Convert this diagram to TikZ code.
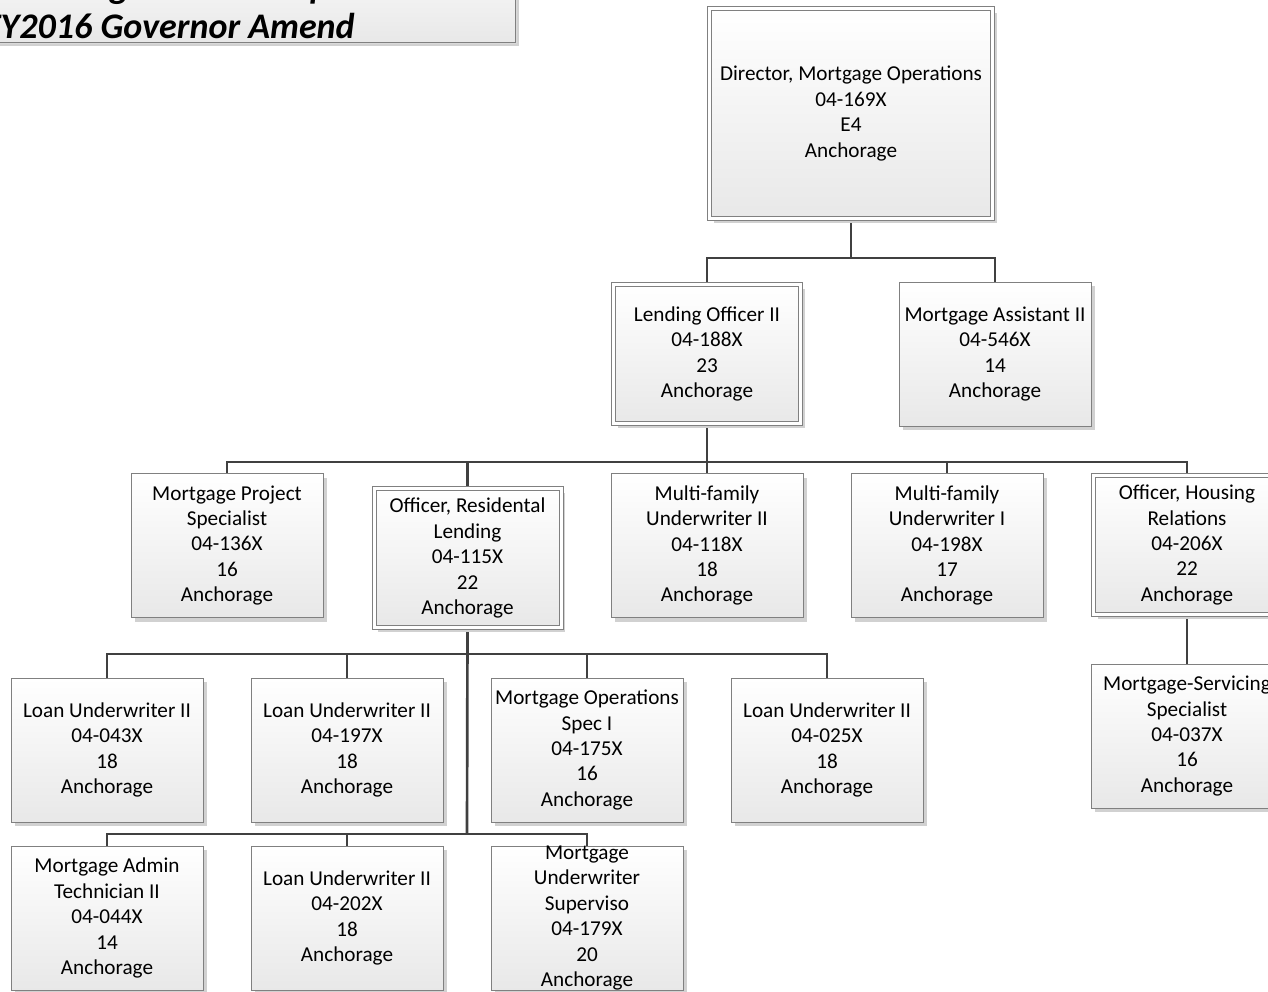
\documentclass[tikz,border=0pt]{standalone}
\usepackage{fontspec}
\setmainfont{Carlito}
\usetikzlibrary{shadows,calc}
\pgfdeclarelayer{background}
\pgfsetlayers{background,main}
\tikzset{
 orgbox/.style={draw=black!50, line width=0.75pt, top color=white, bottom color=black!9,
   minimum width=144pt, minimum height=108pt, inner sep=0pt, outer sep=0pt,
   drop shadow={shadow xshift=3pt, shadow yshift=-3pt, fill=black!18, opacity=1}},
 dblbox/.style={orgbox, double=white, double distance=2.25pt,
   minimum width=140.25pt, minimum height=104.25pt},
 txt/.style={align=center, font=\fontsize{15.9}{19.1}\selectfont, inner sep=0pt, text=black},
 ttl/.style={font=\fontsize{27}{32}\selectfont\bfseries\itshape, inner sep=0pt, text=black},
 conn/.style={draw=black!75, line width=2pt}
}
\begin{document}
\begin{tikzpicture}[x=0.75pt,y=-0.75pt]
\useasboundingbox (0,0) rectangle (1268,992);
\begin{scope}
\clip (0,0) rectangle (1268,992);
% title block
\node[orgbox, anchor=south east, minimum width=420pt, minimum height=80pt,
  drop shadow={shadow xshift=1.5pt, shadow yshift=-1.5pt, fill=black!15, opacity=1}] (title) at (515,42) {};
\node[ttl, anchor=base east] (t2) at (355,38) {FY2016 Governor Amend};
\node[ttl, anchor=base] (t1) at ($(t2.base)+(0,-40)$) {Alaska Housing Finance Corporation};

% level 1
\node[dblbox, minimum width=212.25pt, minimum height=157.5pt] (dir) at (851,113.5) {};
\node[txt] (dir-t) at (dir) {Director, Mortgage Operations\\04-169X\\E4\\Anchorage};

% level 2
\node[dblbox] (lo2) at (707,354) {};
\node[txt] (lo2-t) at (lo2) {Lending Officer II\\04-188X\\23\\Anchorage};
\node[orgbox] (ma2) at (995,354) {};
\node[txt] (ma2-t) at (ma2) {Mortgage Assistant II\\04-546X\\14\\Anchorage};

% level 3
\node[orgbox] (mps) at (227,545.5) {};
\node[txt] (mps-t) at (mps) {Mortgage Project\\Specialist\\04-136X\\16\\Anchorage};
\node[dblbox] (orl) at (467.5,558) {};
\node[txt] (orl-t) at (orl) {Officer, Residental\\Lending\\04-115X\\22\\Anchorage};
\node[orgbox] (mf2) at (707,545.5) {};
\node[txt] (mf2-t) at (mf2) {Multi-family\\Underwriter II\\04-118X\\18\\Anchorage};
\node[orgbox] (mf1) at (947,545.5) {};
\node[txt] (mf1-t) at (mf1) {Multi-family\\Underwriter I\\04-198X\\17\\Anchorage};
\node[dblbox] (ohr) at (1187,545) {};
\node[txt] (ohr-t) at (ohr) {Officer, Housing\\Relations\\04-206X\\22\\Anchorage};
\node[orgbox] (mss) at (1187,736) {};
\node[txt] (mss-t) at (mss) {Mortgage-Servicing\\Specialist\\04-037X\\16\\Anchorage};

% level 4
\node[orgbox] (lu043) at (107,750) {};
\node[txt] (lu043-t) at (lu043) {Loan Underwriter II\\04-043X\\18\\Anchorage};
\node[orgbox] (lu197) at (347,750) {};
\node[txt] (lu197-t) at (lu197) {Loan Underwriter II\\04-197X\\18\\Anchorage};
\node[orgbox] (mos) at (587,750) {};
\node[txt] (mos-t) at (mos) {Mortgage Operations\\Spec I\\04-175X\\16\\Anchorage};
\node[orgbox] (lu025) at (827,750) {};
\node[txt] (lu025-t) at (lu025) {Loan Underwriter II\\04-025X\\18\\Anchorage};

% level 5
\node[orgbox] (mat) at (107,918) {};
\node[txt] (mat-t) at (mat) {Mortgage Admin\\Technician II\\04-044X\\14\\Anchorage};
\node[orgbox] (lu202) at (347,918) {};
\node[txt] (lu202-t) at (lu202) {Loan Underwriter II\\04-202X\\18\\Anchorage};
\node[orgbox] (mus) at (587,918) {};
\node[txt] (mus-t) at (mus) {Mortgage\\Underwriter\\Superviso\\04-179X\\20\\Anchorage};
\end{scope}

% connectors
\coordinate (b1) at (851,258);
\coordinate (b2) at (707,462);
\coordinate (b3) at (467,654);
\coordinate (b4) at (467,834);
\begin{pgfonlayer}{background}
\draw[conn] (dir.south) -- (b1);
\draw[conn] (lo2.north) |- (b1) -| (ma2.north);
\draw[conn] (lo2.south) -- (b2);
\draw[conn] (mps.north) |- (b2) -| (ohr.north);
\draw[conn] (orl.north) |- (b2);
\draw[conn] (mf2.north) -- (b2);
\draw[conn] (mf1.north) |- (b2);
\draw[conn] (ohr.south) -- (mss.north);
\draw[conn] (orl.south) -- (b4);
\draw[conn] (lu043.north) |- (b3) -| (lu025.north);
\draw[conn] (lu197.north) |- (b3);
\draw[conn] (mos.north) |- (b3);
\draw[conn] (mat.north) |- (b4) -| (mus.north);
\draw[conn] (lu202.north) |- (b4);
\end{pgfonlayer}
\end{tikzpicture}
\end{document}
